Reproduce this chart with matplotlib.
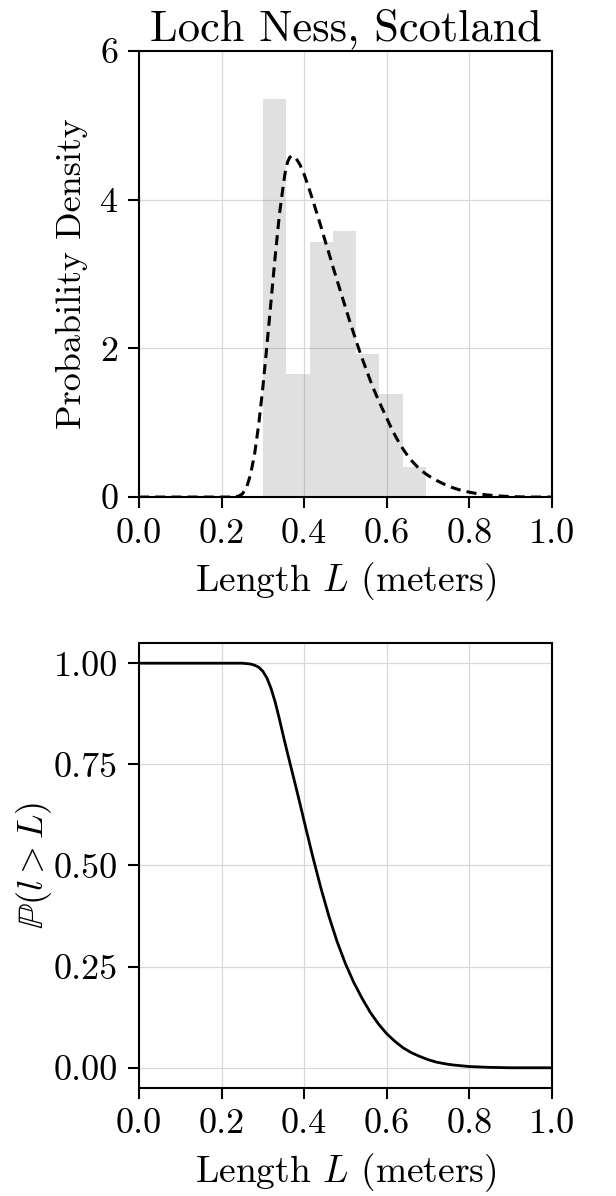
import numpy as np
import matplotlib
matplotlib.use("Agg")
import matplotlib.pyplot as plt

bin_edges = [0.300, 0.3564, 0.4129, 0.4693, 0.5257, 0.5821, 0.6386, 0.695]
bin_density = [5.36, 1.65, 3.43, 3.58, 1.92, 1.38, 0.41]

# fitted density (dashed)
pdf_x = [0.00, 0.10, 0.20, 0.23, 0.24, 0.25, 0.26, 0.27, 0.28, 0.29, 0.30,
         0.31, 0.32, 0.33, 0.34, 0.35, 0.355, 0.36, 0.365, 0.37, 0.375,
         0.38, 0.39, 0.40, 0.41, 0.42, 0.43, 0.44, 0.45, 0.46, 0.47, 0.48,
         0.49, 0.50, 0.51, 0.52, 0.53, 0.54, 0.55, 0.56, 0.57, 0.58, 0.59,
         0.60, 0.61, 0.62, 0.63, 0.64, 0.65, 0.66, 0.67, 0.68, 0.69, 0.70,
         0.72, 0.74, 0.76, 0.78, 0.80, 0.82, 0.84, 0.86, 0.88, 0.90, 0.92,
         0.95, 1.00]
pdf_y = [0.00, 0.00, 0.00, 0.00, 0.01, 0.04, 0.12, 0.30, 0.58, 0.98, 1.48,
         2.05, 2.65, 3.25, 3.80, 4.22, 4.40, 4.51, 4.57, 4.59, 4.58,
         4.56, 4.47, 4.34, 4.18, 4.01, 3.83, 3.65, 3.46, 3.28, 3.09, 2.91,
         2.73, 2.55, 2.37, 2.20, 2.03, 1.87, 1.72, 1.57, 1.43, 1.30, 1.18,
         1.06, 0.94, 0.83, 0.73, 0.64, 0.56, 0.49, 0.43, 0.375, 0.33, 0.29,
         0.225, 0.17, 0.125, 0.09, 0.065, 0.045, 0.03, 0.02, 0.012, 0.006,
         0.003, 0.00, 0.00]

# survival function P(l > L)
sf_x = [0.00, 0.20, 0.25, 0.26, 0.27, 0.28, 0.29, 0.30, 0.31, 0.32, 0.33,
        0.34, 0.35, 0.36, 0.37, 0.38, 0.39, 0.40, 0.42, 0.44, 0.46, 0.48,
        0.50, 0.52, 0.54, 0.56, 0.58, 0.60, 0.62, 0.64, 0.66, 0.68, 0.70,
        0.72, 0.74, 0.76, 0.78, 0.80, 0.85, 0.90, 1.00]
sf_y = [1.000, 1.000, 1.000, 0.999, 0.998, 0.995, 0.990, 0.980, 0.963,
        0.937, 0.903, 0.862, 0.818, 0.776, 0.735, 0.694, 0.652, 0.609,
        0.525, 0.446, 0.374, 0.311, 0.257, 0.211, 0.172, 0.137, 0.108,
        0.084, 0.065, 0.049, 0.037, 0.028, 0.020, 0.014, 0.010, 0.007,
        0.005, 0.003, 0.001, 0.000, 0.000]

plt.rcParams["font.family"] = ["cmr10"]
plt.rcParams["mathtext.fontset"] = "cm"
plt.rcParams["axes.formatter.use_mathtext"] = True
plt.rcParams["font.size"] = 26

fig = plt.figure(figsize=(6.16, 11.96), dpi=100)
ax1 = fig.add_axes([0.2256, 0.5844, 0.6705, 0.3729])
ax2 = fig.add_axes([0.2256, 0.0903, 0.6705, 0.3721])

edges = np.array(bin_edges)
ax1.bar(edges[:-1], bin_density, width=np.diff(edges), align="edge",
        color="#808080", alpha=0.24, linewidth=0, zorder=1)
ax1.plot(pdf_x, pdf_y, "k--", lw=2.2, dashes=(3.3, 2.0), zorder=3)
ax1.set_xlim(0, 1)
ax1.set_ylim(0, 6)
ax1.set_yticks([0, 2, 4, 6])
ax1.set_title("Loch Ness, Scotland", fontsize=32, pad=8)
ax1.set_ylabel("Probability Density", labelpad=8)
ax1.set_xlabel(r"Length $L$ (meters)", fontsize=27, labelpad=8)

ax2.plot(sf_x, sf_y, "k-", lw=2.0, zorder=3)
ax2.set_xlim(0, 1)
ax2.set_ylim(-0.05, 1.05)
ax2.set_yticks([0, 0.25, 0.5, 0.75, 1.0])
ax2.set_yticklabels(["0.00", "0.25", "0.50", "0.75", "1.00"])
ax2.set_ylabel(r"$\mathbb{P}(l > L)$", labelpad=0)
ax2.set_xlabel(r"Length $L$ (meters)", fontsize=27, labelpad=8)

for ax in (ax1, ax2):
    ax.set_xticks([0, 0.2, 0.4, 0.6, 0.8, 1.0])
    ax.set_xticklabels(["0.0", "0.2", "0.4", "0.6", "0.8", "1.0"])
    ax.grid(True, color="#d8d8d8", lw=0.9, zorder=0)
    ax.set_axisbelow(True)
    for s in ax.spines.values():
        s.set_linewidth(1.5)
    ax.tick_params(direction="out", length=8, width=1.5, pad=7)

fig.savefig("out.png", dpi=100, facecolor="white")
